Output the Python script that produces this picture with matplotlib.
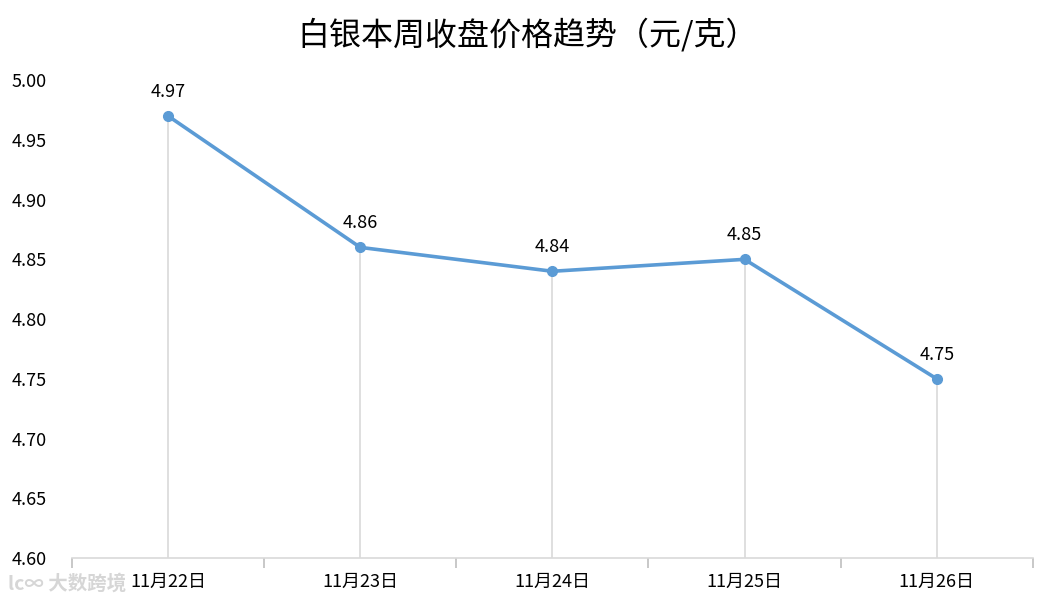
import matplotlib.pyplot as plt
import numpy as np

plt.rcParams['font.family'] = ['Noto Sans CJK SC', 'DejaVu Sans']

dates = ['11月22日', '11月23日', '11月24日', '11月25日', '11月26日']
prices = [4.97, 4.86, 4.84, 4.85, 4.75]
yticks = [4.60, 4.65, 4.70, 4.75, 4.80, 4.85, 4.90, 4.95, 5.00]

fig = plt.figure(figsize=(10.56, 6.07), dpi=100)
ax = fig.add_axes([0.0682, 0.0807, 0.9098, 0.7873])

x = np.arange(len(dates))
ymin = 4.60

# drop lines from each point down to the axis
ax.vlines(x, ymin, prices, color='#d9d9d9', lw=1.2, zorder=1)
ax.plot(x, prices, color='#5b9bd5', lw=2.6, marker='o', markersize=7, zorder=3)

for xi, p in zip(x, prices):
    ax.annotate(f'{p:.2f}', (xi, p), xytext=(0, 11), textcoords='offset points',
                ha='center', va='bottom', fontsize=13, color='#000000')

ax.set_xlim(-0.5, len(dates) - 0.5)
ax.set_ylim(ymin, 5.00)
ax.set_yticks(yticks)
ax.set_yticklabels([f'{v:.2f}' for v in yticks], fontsize=13)
ax.set_xticks(x)
ax.set_xticklabels(dates, fontsize=13)
ax.set_xticks(np.arange(-0.5, len(dates)), minor=True)
ax.tick_params(axis='x', which='major', length=0, pad=11)
ax.tick_params(axis='x', which='minor', length=7, color='#bfbfbf', width=1.2)
ax.tick_params(axis='y', length=0, pad=18)

for side in ['top', 'right', 'left']:
    ax.spines[side].set_visible(False)
ax.spines['bottom'].set_color('#d9d9d9')
ax.spines['bottom'].set_linewidth(1.2)

fig.text(0.5, 0.943, '白银本周收盘价格趋势（元/克）', ha='center', va='center',
         fontsize=23, color='#000000')

# faint watermark
fig.text(0.008, 0.038, 'lc∞ 大数跨境', fontsize=14, color='#cccccc', alpha=0.8,
         ha='left', va='center', fontweight='bold')

fig.savefig('out.png', dpi=100)
